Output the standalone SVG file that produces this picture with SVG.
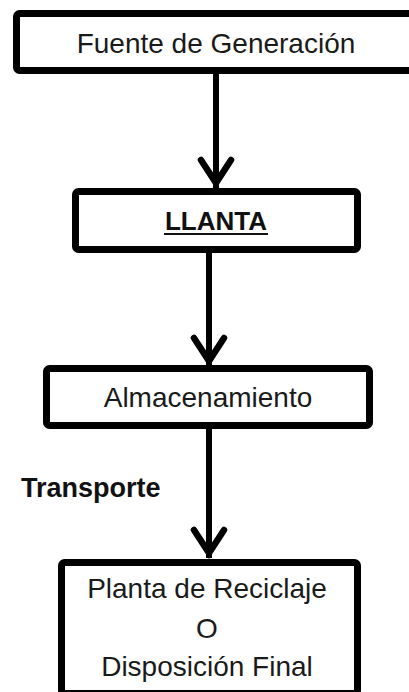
<svg xmlns="http://www.w3.org/2000/svg" width="409" height="692" viewBox="0 0 409 692">
<style>
.box{fill:#fff;stroke:#000;stroke-width:7;}
.t{font-family:"Liberation Sans",Arial,sans-serif;font-size:28px;fill:#1a1a1a;text-anchor:middle;}
.b{font-family:"Liberation Sans",Arial,sans-serif;font-weight:bold;fill:#111;}
.conn{stroke:#000;stroke-width:6;fill:none;}
</style>
<defs>
<marker id="ah" markerUnits="userSpaceOnUse" markerWidth="60" markerHeight="60" viewBox="-40 -30 60 60" refX="0" refY="0" orient="auto" overflow="visible">
<path d="M-28,-15 L-5,0 L-28,15" fill="none" stroke="#000" stroke-width="6.5" stroke-linejoin="miter" stroke-linecap="round" stroke-miterlimit="10"/>
</marker>
</defs>
<g id="connectors">
<line class="conn" x1="216" y1="74" x2="216" y2="188" marker-end="url(#ah)"/>
<line class="conn" x1="209" y1="253" x2="209" y2="366" marker-end="url(#ah)"/>
<line class="conn" x1="209" y1="429" x2="209" y2="558" marker-end="url(#ah)"/>
<text class="b" x="21" y="497" font-size="27">Transporte</text>
</g>
<g id="n1">
<rect class="box" x="16.5" y="13.5" width="430" height="57" rx="3"/>
<text class="t" x="216" y="53">Fuente de Generación</text>
</g>
<g id="n2">
<rect class="box" x="75.5" y="191.5" width="282" height="58" rx="3"/>
<text class="b" x="216" y="230" font-size="26" text-anchor="middle">LLANTA</text>
<line x1="164" y1="234" x2="268" y2="234" stroke="#111" stroke-width="2"/>
</g>
<g id="n3">
<rect class="box" x="46.5" y="368.5" width="323" height="57" rx="3"/>
<text class="t" x="208" y="407">Almacenamiento</text>
</g>
<g id="n4">
<rect class="box" x="61.5" y="562.5" width="296" height="131" rx="3"/>
<text class="t" x="207" y="598">Planta de Reciclaje</text>
<text class="t" x="207" y="638">O</text>
<text class="t" x="207" y="676">Disposición Final</text>
</g>
</svg>
